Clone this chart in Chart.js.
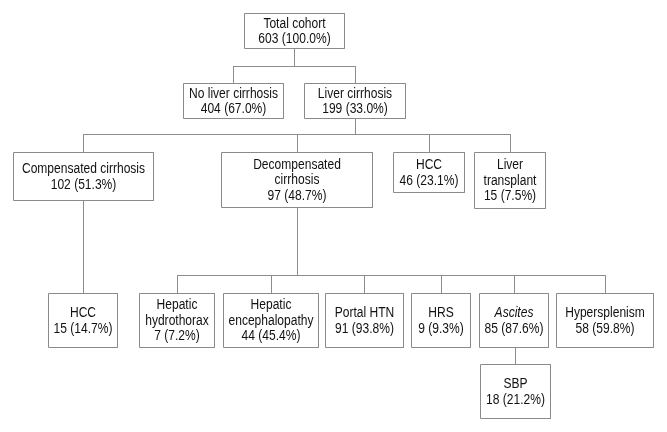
<!DOCTYPE html>
<html>
<head>
<meta charset="utf-8">
<script src="https://cdn.jsdelivr.net/npm/chart.js@4.4.1/dist/chart.umd.min.js"></script>
<style>
  body { margin: 0; background: #fff; }
  #flow { display: block; }
</style>
</head>
<body>
<canvas id="flow" width="667" height="432"></canvas>
<script>
// node data
var nodeNames = ["Total cohort", "No liver cirrhosis", "Liver cirrhosis",
  "Compensated cirrhosis", "Decompensated\ncirrhosis", "HCC", "Liver\ntransplant",
  "HCC", "Hepatic\nhydrothorax", "Hepatic\nencephalopathy", "Portal HTN", "HRS",
  "Ascites", "Hypersplenism", "SBP"];
var nodeCounts = [603, 404, 199, 102, 97, 46, 15, 15, 7, 44, 91, 9, 85, 58, 18];
var nodePercents = ["100.0", "67.0", "33.0", "51.3", "48.7", "23.1", "7.5",
  "14.7", "7.2", "45.4", "93.8", "9.3", "87.6", "59.8", "21.2"];
var nodeParent = [-1, 0, 0, 2, 2, 2, 2, 3, 4, 4, 4, 4, 4, 4, 12];

// layout: box left, top, width, height (pixels of the 667x432 frame)
var boxes = [
  [244, 13, 100, 35], [183, 83, 100, 35], [304, 83, 101, 35],
  [13, 152, 140, 48], [221, 152, 151, 55], [393, 152, 71, 40], [474, 152, 71, 56],
  [48, 293, 69, 54], [139, 293, 75, 54], [223, 293, 95, 54], [325, 293, 78, 54],
  [411, 293, 59, 54], [479, 293, 69, 54], [556, 293, 97, 54], [480, 364, 70, 54]
];
// y of the horizontal branch line under each parent
var busY = {0: 66, 2: 134, 3: 0, 4: 275, 12: 0};
var italicNodes = [12];

var lineColor = "#8c8c8c";
var boxColor = "#8a8a8a";

function cx(i) { return Math.round(boxes[i][0] + boxes[i][2] / 2); }

var datasets = [];

// connectors
for (var p in busY) {
  p = parseInt(p);
  var kids = [];
  for (var i = 0; i < nodeParent.length; i++) if (nodeParent[i] == p) kids.push(i);
  var pb = boxes[p][1] + boxes[p][3];
  if (kids.length == 1) {
    var k = kids[0];
    datasets.push({data: [{x: cx(k), y: pb}, {x: cx(k), y: boxes[k][1]}]});
    continue;
  }
  var by = busY[p];
  datasets.push({data: [{x: cx(p), y: pb}, {x: cx(p), y: by}]});
  var xs = kids.map(cx);
  datasets.push({data: [{x: Math.min.apply(null, xs), y: by}, {x: Math.max.apply(null, xs), y: by}]});
  kids.forEach(function(k) {
    datasets.push({data: [{x: cx(k), y: by}, {x: cx(k), y: boxes[k][1]}]});
  });
}
datasets.forEach(function(d) { d.borderColor = lineColor; });

// boxes
boxes.forEach(function(b) {
  var x0 = b[0], y0 = b[1], x1 = b[0] + b[2], y1 = b[1] + b[3];
  datasets.push({
    data: [{x: x0, y: y0}, {x: x1, y: y0}, {x: x1, y: y1}, {x: x0, y: y1}, {x: x0, y: y0}],
    borderColor: boxColor
  });
});

datasets.forEach(function(d) {
  d.showLine = true;
  d.pointRadius = 0;
  d.borderWidth = 1;
  d.clip = false;
});

// writes the labels inside the boxes (font is narrowed a bit like the original)
var boxText = {
  id: "boxText",
  afterDatasetsDraw: function(chart) {
    var ctx = chart.ctx;
    var xs = chart.scales.x, ys = chart.scales.y;
    ctx.save();
    ctx.fillStyle = "#111";
    ctx.textAlign = "center";
    ctx.textBaseline = "middle";
    for (var i = 0; i < boxes.length; i++) {
      var lines = nodeNames[i].split("\n");
      lines.push(nodeCounts[i] + " (" + nodePercents[i] + "%)");
      var px = xs.getPixelForValue(boxes[i][0] + boxes[i][2] / 2);
      var py = ys.getPixelForValue(boxes[i][1] + boxes[i][3] / 2);
      var lh = 15.5;
      var top = py - (lines.length - 1) * lh / 2;
      for (var j = 0; j < lines.length; j++) {
        var it = (j == 0 && italicNodes.indexOf(i) >= 0) ? "italic " : "";
        ctx.font = it + "14px 'Liberation Sans', Arial, sans-serif";
        ctx.save();
        ctx.translate(px, top + j * lh + 0.5);
        ctx.scale(0.86, 1);
        ctx.fillText(lines[j], 0, 0);
        ctx.restore();
      }
    }
    ctx.restore();
  }
};

new Chart(document.getElementById("flow"), {
  type: "scatter",
  data: {datasets: datasets},
  options: {
    responsive: false,
    animation: false,
    layout: {padding: 0},
    plugins: {legend: {display: false}, tooltip: {enabled: false}},
    scales: {
      x: {display: false, min: -0.5, max: 666.5},
      y: {display: false, min: -0.5, max: 431.5, reverse: true}
    }
  },
  plugins: [boxText]
});
</script>
</body>
</html>
